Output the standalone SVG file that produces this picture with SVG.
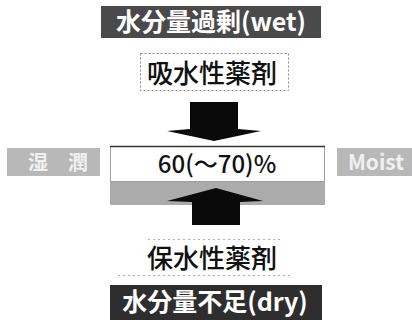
<svg xmlns="http://www.w3.org/2000/svg" width="412" height="320" viewBox="0 0 412 320">
  <style>
    .cjk { font-family: "Noto Sans CJK JP", "Noto Sans", sans-serif; }
    .wtxt { fill: #ffffff; font-weight: bold; }
    .ltxt { fill: #f0f0f0; font-weight: bold; }
    .btxt { fill: #111111; font-weight: 500; }
    .dotted { fill: #ffffff; stroke: #8a8a8a; stroke-width: 1; stroke-dasharray: 2 2; }
    .faint { stroke: #b0b0b0; stroke-width: 1; stroke-dasharray: 2 3; }
    .arrow { fill: #0a0a0a; }
    .side { fill: #b8b8b8; }
  </style>
  <rect width="412" height="320" fill="#ffffff"/>

  <g id="wet">
    <rect x="101" y="6" width="220" height="32" fill="#4a4a4a"/>
    <text class="cjk wtxt" x="211" y="31" font-size="25" text-anchor="middle">水分量過剰(wet)</text>
  </g>

  <g id="absorbent">
    <rect class="dotted" x="140.5" y="53.5" width="148" height="37"/>
    <text class="cjk btxt" x="212" y="83" font-size="26" text-anchor="middle">吸水性薬剤</text>
  </g>

  <g id="moist-jp">
    <rect class="side" x="7" y="148" width="93" height="28"/>
    <text class="cjk ltxt" x="58" y="170" font-size="20" text-anchor="middle">湿　潤</text>
  </g>

  <g id="level">
    <rect x="110.5" y="146.5" width="214" height="35" fill="#ffffff" stroke="#a0a0a0" stroke-width="1"/>
    <line x1="110" y1="146.5" x2="325" y2="146.5" stroke="#333" stroke-width="1.5"/>
    <text class="cjk btxt" x="217" y="173" font-size="24" font-weight="400" text-anchor="middle">60(～70)%</text>
  </g>

  <g id="moist-en">
    <rect class="side" x="337" y="148" width="75" height="28"/>
    <text class="cjk ltxt" x="376" y="170" font-size="21" text-anchor="middle">Moist</text>
  </g>

  <g id="band">
    <rect x="110" y="182" width="215" height="23" fill="#ababab"/>
  </g>

  <g id="connectors">
    <path class="arrow" d="M190,102 H238 V129 L261,131 L214,141 L167,131 L190,129 Z"/>
    <path class="arrow" d="M216,188 L263,201 L240,202 V225 H192 V202 L167,201 Z"/>
  </g>

  <g id="retention">
    <line class="faint" x1="148" y1="239.5" x2="282" y2="239.5"/>
    <text class="cjk btxt" x="212" y="268" font-size="26" text-anchor="middle">保水性薬剤</text>
  </g>

  <g id="dry">
    <line class="faint" x1="118" y1="275.5" x2="290" y2="275.5"/>
    <rect x="110" y="285" width="212" height="35" fill="#2e2e2e"/>
    <text class="cjk wtxt" x="215" y="311" font-size="25" text-anchor="middle">水分量不足(dry)</text>
  </g>
</svg>
